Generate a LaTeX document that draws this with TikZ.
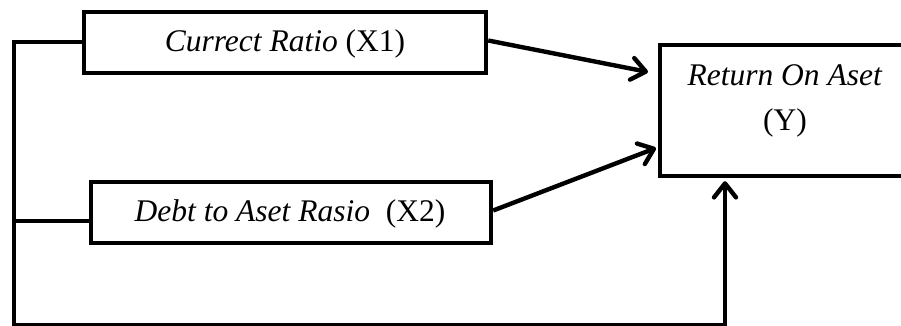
\documentclass[tikz,border=0pt]{standalone}
\usepackage{fontspec}
\setmainfont{Liberation Serif}
\usetikzlibrary{arrows.meta,calc}
\begin{document}
\begin{tikzpicture}[x=1pt,y=-1pt,
  box/.style={draw,line width=4.4pt,inner sep=0pt,miter limit=10},
  lbl/.style={font=\fontsize{31.5}{45}\selectfont,inner sep=0pt,align=center},
  wire/.style={line width=4.4pt},
  arr/.style={line width=4.4pt,-{Straight Barb[length=14pt,width=22pt,line cap=round,line join=round]}}]
\useasboundingbox (0,0) rectangle (901,326);
\clip (0,0) rectangle (901,326);
\node[box,minimum width=402pt,minimum height=61pt] (x1) at (285,42.5) {};
\node[lbl] (x1t) at (285,44) {\textit{Currect Ratio} (X1)};
\node[box,minimum width=400pt,minimum height=61pt] (x2) at (291,212.5) {};
\node[lbl] (x2t) at (290,214) {\textit{Debt to Aset Rasio}\ \ (X2)};
\node[box,minimum width=255pt,minimum height=131pt] (y) at (787.5,110.5) {};
\node[lbl] (yt) at (785,101) {\textit{Return On Aset}\\(Y)};
\coordinate (tl) at (14,42);
\coordinate (ml) at (14,221);
\coordinate (bl) at (14,325.5);
\coordinate (br) at (725,325.5);
\coordinate (e1) at (648,72);
\coordinate (e2) at (656,148);
\draw[wire] (tl -| x1.west) -- (tl) -- (bl) -- (br);
\draw[wire] (ml) -- (ml -| x2.west);
\draw[arr] ([yshift=2pt]x1.east) -- (e1);
\draw[arr] ([yshift=2pt]x2.east) -- (e2);
\draw[arr] (br) -- ($(br |- y.south)+(0,3)$);
\end{tikzpicture}
\end{document}
